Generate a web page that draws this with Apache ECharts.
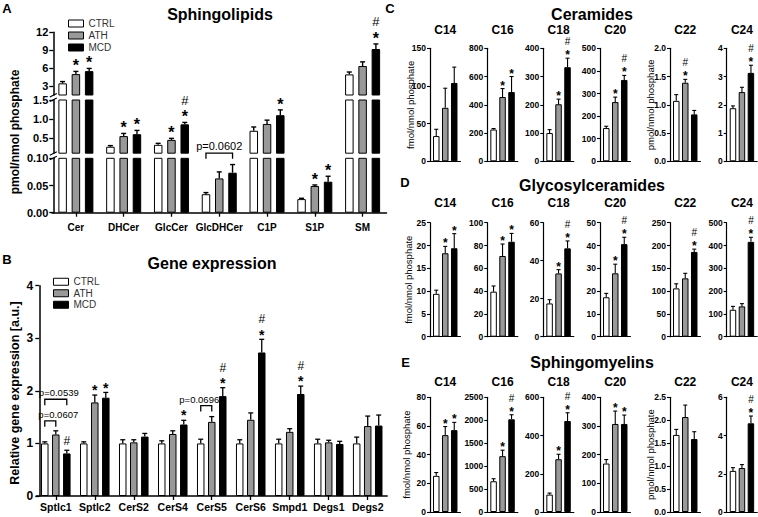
<!DOCTYPE html>
<html><head><meta charset="utf-8">
<script src="https://cdn.jsdelivr.net/npm/echarts@6/dist/echarts.min.js"></script>
<style>html,body{margin:0;padding:0;background:#fff}#c{width:758px;height:517px}</style>
</head><body><div id="c"></div>
<script>
// ---------- Panel A: Sphingolipids ----------
const aCats = ['Cer','DHCer','GlcCer','GlcDHCer','C1P','S1P','SM'];
const aCtrl = [3.45, 0.27, 0.32, 0.034, 0.69, 0.025, 4.95];
const aCtrlErr = [0.3, 0.03, 0.04, 0.003, 0.1, 0.0015, 0.4];
const aAth = [5.0, 0.55, 0.45, 0.063, 0.87, 0.049, 6.35];
const aAthErr = [0.45, 0.07, 0.04, 0.012, 0.1, 0.002, 0.7];
const aMcd = [5.5, 0.6, 0.86, 0.0735, 1.1, 0.057, 9.2];
const aMcdErr = [0.45, 0.1, 0.05, 0.015, 0.14, 0.01, 0.85];
const aAthMark = ['*','*','*','','','*',''];
const aMcdMark = ['*','*','#*','','*','*','#*'];
const aSegMin = [1.5, 0.1, 0];
const aSegMax = [12, 1.5, 0.1];
const aSegTicks = [[3,6,9,12],[0.5,1.0,1.5],[0,0.05,0.1]];
const aSegDigits = [0, 1, 2];
const aBrCat = [3], aBrFrom = [0], aBrTo = [2], aBrLevel = [0.1], aBrLabel = ['p=0.0602'];

// ---------- Panel B: Gene expression ----------
const bCats = ['Sptlc1','Sptlc2','CerS2','CerS4','CerS5','CerS6','Smpd1','Degs1','Degs2'];
const bCtrl = [1,1,1,1,1,1,1,1,1];
const bCtrlErr = [0.03,0.03,0.07,0.05,0.08,0.07,0.08,0.08,0.12];
const bAth = [1.17,1.78,1.02,1.18,1.41,1.45,1.22,1.02,1.33];
const bAthErr = [0.07,0.14,0.05,0.06,0.1,0.13,0.06,0.04,0.19];
const bMcd = [0.81,1.87,1.13,1.36,1.9,2.73,1.94,0.99,1.34];
const bMcdErr = [0.06,0.1,0.06,0.08,0.16,0.25,0.15,0.05,0.2];
const bAthMark = ['','*','','','','','','',''];
const bMcdMark = ['#','*','','*','#*','#*','#*','',''];
const bBrCat = [0,0,4], bBrFrom = [0,0,0], bBrTo = [2,1,1];
const bBrLevel = [1.84,1.43,1.72];
const bBrLabel = ['p=0.0539','p=0.0607','p=0.0696'];
const bMax = 4, bStep = 1;

// ---------- Panels C-E: chain lengths ----------
const chains = ['C14','C16','C18','C20','C22','C24'];
// C: Ceramides
const cCtrl = [33.5, 225, 100, 147, 1.07, 1.88];
const cCtrlErr = [9, 7, 12, 8, 0.11, 0.08];
const cAth = [71, 455, 202, 262, 1.39, 2.45];
const cAthErr = [26, 60, 18, 22, 0.06, 0.17];
const cMcd = [104, 490, 333, 360, 0.83, 3.13];
const cMcdErr = [21, 110, 32, 20, 0.07, 0.27];
const cAthMark = ['','*','*','*','#*',''];
const cMcdMark = ['','*','#*','#*','','#*'];
const cMax = [150,800,400,500,2,4];
const cStep = [50,200,100,100,0.5,1];
// D: Glycosylceramides
const dCtrl = [9.4, 39.5, 17.5, 17.3, 106, 118];
const dCtrlErr = [0.8, 5, 2, 1.7, 10, 15];
const dAth = [18.3, 70.8, 33.3, 27.8, 128, 133];
const dAthErr = [1.5, 10.5, 2, 4, 11, 12];
const dMcd = [19.4, 83.3, 46.5, 40.6, 186, 416];
const dMcdErr = [3.2, 7.3, 3.9, 3, 6, 20];
const dAthMark = ['*','*','*','*','',''];
const dMcdMark = ['*','*','#*','#*','#*','#*'];
const dMax = [25,100,60,50,250,500];
const dStep = [5,20,20,10,50,100];
// E: Sphingomyelins
const eCtrl = [25.2, 670, 91, 169, 1.68, 2.15];
const eCtrlErr = [2.3, 55, 8, 14, 0.12, 0.17];
const eAth = [53.6, 1217, 276, 307, 2.07, 2.3];
const eAthErr = [6, 130, 26, 45, 0.26, 0.18];
const eMcd = [57.1, 2020, 476, 307, 1.59, 4.64];
const eMcdErr = [5.4, 100, 43, 31, 0.16, 0.38];
const eAthMark = ['*','*','*','*','',''];
const eMcdMark = ['*','#*','#*','*','','#*'];
const eMax = [80,2500,600,400,2.5,6];
const eStep = [20,500,200,100,0.5,2];

// ---------- build ----------
const FONT = '"Liberation Sans", Arial, Helvetica, sans-serif';
const NAMES = ['CTRL','ATH','MCD'];
const ISTYLE = [
  {color:'#ffffff', borderColor:'#000', borderWidth:1},
  {color:'#999999', borderColor:'#000', borderWidth:1},
  {color:'#000000', borderColor:'#000', borderWidth:1}
];
const grids=[], xAxes=[], yAxes=[], series=[], graphics=[];

function tstyle(text, size, weight, align){
  return {text, fontSize:size, fontWeight:weight||'normal', fontFamily:FONT, fill:'#000',
    align:align||'center', verticalAlign:'middle', textAlign:align||'center', textVerticalAlign:'middle'};
}
function addText(x, y, text, size, weight, rot, align){
  graphics.push({type:'text', x, y, rotation:rot||0, silent:true, style:tstyle(text,size,weight,align)});
}
function addLine(x1,y1,x2,y2,w,color){
  graphics.push({type:'line', silent:true, shape:{x1,y1,x2,y2}, style:{stroke:color||'#000', lineWidth:w||1}});
}

function errorSeries(gi, items, step, capW, mk){
  return {
    type:'custom', xAxisIndex:gi, yAxisIndex:gi, z:5, silent:true,
    data: items.map(it=>[it.cat, it.v]),
    renderItem(params, api){
      const it = items[params.dataIndex];
      const p0 = api.coord([it.cat, it.v]);
      const p1 = api.coord([it.cat, it.v + it.e]);
      const x = p0[0] + it.k*step;
      const ch = [
        {type:'line', shape:{x1:x,y1:p0[1],x2:x,y2:p1[1]}, style:{stroke:'#000', lineWidth:mk.lw}},
        {type:'line', shape:{x1:x-capW/2,y1:p1[1],x2:x+capW/2,y2:p1[1]}, style:{stroke:'#000', lineWidth:mk.lw}}
      ];
      const y = p1[1];
      const hasStar = it.mark.indexOf('*')>=0, hasHash = it.mark.indexOf('#')>=0;
      if (hasStar) ch.push({type:'text', x, y:y-mk.starDy, style:tstyle('*', mk.starSize, 'bold')});
      if (hasHash) ch.push({type:'text', x, y:y-(hasStar?mk.hashDy:mk.hashAlone), style:tstyle('#', mk.hashSize, 'normal')});
      return {type:'group', children:ch};
    }
  };
}
function bracketSeries(gi, list, step, leg, fs){
  return {
    type:'custom', xAxisIndex:gi, yAxisIndex:gi, z:5, silent:true,
    data: list.map(b=>[b.cat, b.level]),
    renderItem(params, api){
      const b = list[params.dataIndex];
      const p = api.coord([b.cat, b.level]);
      const x1 = p[0] + (b.from-1)*step, x2 = p[0] + (b.to-1)*step;
      return {type:'group', children:[
        {type:'polyline', shape:{points:[[x1,p[1]+leg],[x1,p[1]],[x2,p[1]],[x2,p[1]+leg]]},
          style:{stroke:'#000', lineWidth:1.3, fill:null}},
        {type:'text', x:(x1+x2)/2 + b.dx, y:p[1]-b.ty, style:tstyle(b.label, fs, 'normal')}
      ]};
    }
  };
}
function barSeries(gi, vals, k, bw, gap){
  return {type:'bar', name:NAMES[k], xAxisIndex:gi, yAxisIndex:gi, data:vals,
    barWidth:bw, barGap:gap, itemStyle:ISTYLE[k], clip:true, silent:true, z:2};
}
function items(vals, errs, marks, k, filter){
  const out=[];
  vals.forEach((v,i)=>{ if(!filter || filter(v)) out.push({cat:i, v, e:errs[i], k, mark:marks?marks[i]:''}); });
  return out;
}
const axLine = w => ({show:true, lineStyle:{color:'#000', width:w}});

// ----- Panel A -----
const A = {left:52, width:334.5, top:[32.3,100,158.3], bot:[95,153.2,212.7]};
const aBw = 8.5, aGapPx = 4.8, aStepPx = aBw + aGapPx;
const segOf = v => v >= aSegMin[0] ? 0 : (v >= aSegMin[1] ? 1 : 2);
for (let s=0; s<3; s++){
  const gi = grids.length;
  grids.push({left:A.left, width:A.width, top:A.top[s], height:A.bot[s]-A.top[s]});
  const last = s===2;
  xAxes.push({type:'category', gridIndex:gi, data:aCats,
    axisLine: last?axLine(1.5):{show:false},
    axisTick: last?{show:true, alignWithLabel:true, interval:0, length:4, lineStyle:{color:'#000', width:1.3}}:{show:false},
    axisLabel: last?{show:true, interval:0, color:'#000', fontSize:10, fontWeight:'bold', margin:10, fontFamily:FONT}:{show:false},
    splitLine:{show:false}});
  const dg = aSegDigits[s];
  yAxes.push({type:'value', gridIndex:gi, min:aSegMin[s], max:aSegMax[s], offset:-1.3,
    axisLine:axLine(1.5),
    axisTick:{show:true, length:4, customValues:aSegTicks[s], lineStyle:{color:'#000', width:1.3}},
    axisLabel:{show:true, customValues:aSegTicks[s], color:'#000', fontSize:11, fontWeight:'bold', margin:5, fontFamily:FONT,
      formatter:v=>Number(v).toFixed(dg)},
    splitLine:{show:false}});
  const bg = Math.round(aGapPx/aBw*100)+'%';
  [aCtrl,aAth,aMcd].forEach((vals,k)=>series.push(barSeries(gi, vals, k, aBw, bg)));
  const f = v => segOf(v)===s;
  const it = [].concat(
    items(aCtrl, aCtrlErr, null, -1, f),
    items(aAth, aAthErr, aAthMark, 0, f),
    items(aMcd, aMcdErr, aMcdMark, 1, f));
  series.push(errorSeries(gi, it, aStepPx, 5, {lw:1.4, starSize:16, starDy:5.5, hashSize:13, hashDy:22, hashAlone:9}));
  if (s===1){
    const br = aBrCat.map((c,i)=>({cat:c, from:aBrFrom[i], to:aBrTo[i], level:aBrLevel[i], label:aBrLabel[i], dx:0, ty:7.5}));
    series.push(bracketSeries(gi, br, aStepPx, 5.5, 11));
  }
}
// axis break marks
[[95,100],[153.2,158.3]].forEach(([y1,y2])=>{
  const ax = 53.3;
  addLine(ax-3.5, y1+2, ax+3.5, y1-1.5, 1.2);
  addLine(ax-3.5, y2+1.5, ax+3.5, y2-2, 1.2);
});
addText(220, 14, 'Sphingolipids', 16, 'bold');
addText(7, 8, 'A', 13, 'bold');
addText(15, 132, 'pmol/nmol phosphate', 12, 'bold', Math.PI/2);

// ----- Panel B -----
{
  const gi = grids.length;
  const bBw = 7.5, bGapPx = 3.5, bStepPx = bBw + bGapPx;
  grids.push({left:36.3, width:350.9, top:285.7, height:210.3});
  xAxes.push({type:'category', gridIndex:gi, data:bCats, axisLine:axLine(1.5),
    axisTick:{show:true, alignWithLabel:true, interval:0, length:4, lineStyle:{color:'#000', width:1.3}},
    axisLabel:{show:true, interval:0, color:'#000', fontSize:10.5, fontWeight:'bold', margin:5, fontFamily:FONT},
    splitLine:{show:false}});
  yAxes.push({type:'value', gridIndex:gi, min:0, max:bMax, interval:bStep, offset:-3,
    axisLine:axLine(1.5),
    axisTick:{show:true, length:4, lineStyle:{color:'#000', width:1.3}},
    axisLabel:{show:true, color:'#000', fontSize:12, fontWeight:'bold', margin:6, fontFamily:FONT},
    splitLine:{show:false}});
  const bg = Math.round(bGapPx/bBw*100)+'%';
  [bCtrl,bAth,bMcd].forEach((vals,k)=>series.push(barSeries(gi, vals, k, bBw, bg)));
  const it = [].concat(
    items(bCtrl, bCtrlErr, null, -1),
    items(bAth, bAthErr, bAthMark, 0),
    items(bMcd, bMcdErr, bMcdMark, 1));
  series.push(errorSeries(gi, it, bStepPx, 5, {lw:1.3, starSize:14, starDy:4.8, hashSize:12, hashDy:20, hashAlone:9}));
  const bDx = [3, 8, -7];
  const br = bBrCat.map((c,i)=>({cat:c, from:bBrFrom[i], to:bBrTo[i], level:bBrLevel[i], label:bBrLabel[i], dx:bDx[i], ty:6.5}));
  series.push(bracketSeries(gi, br, bStepPx, 6, 9.5));
}
addText(212, 263, 'Gene expression', 16, 'bold');
addText(7, 259, 'B', 13, 'bold');
addText(15, 393, 'Relative gene expression [a.u.]', 12.5, 'bold', Math.PI/2);

// ----- Panels C, D, E -----
const rows = [
  {ctrl:cCtrl, ctrlE:cCtrlErr, ath:cAth, athE:cAthErr, mcd:cMcd, mcdE:cMcdErr, athM:cAthMark, mcdM:cMcdMark, max:cMax, step:cStep,
   top:48.3, h:113, subY:30, title:'Ceramides', titleY:14, letter:'C', lx:390, ly:8, ylX:410.5, yl2:true},
  {ctrl:dCtrl, ctrlE:dCtrlErr, ath:dAth, athE:dAthErr, mcd:dMcd, mcdE:dMcdErr, athM:dAthMark, mcdM:dMcdMark, max:dMax, step:dStep,
   top:222.7, h:114, subY:203.3, title:'Glycosylceramides', titleY:185, letter:'D', lx:405, ly:182.5, ylX:408, yl2:false},
  {ctrl:eCtrl, ctrlE:eCtrlErr, ath:eAth, athE:eAthErr, mcd:eMcd, mcdE:eMcdErr, athM:eAthMark, mcdM:eMcdMark, max:eMax, step:eStep,
   top:397.3, h:114.7, subY:381.7, title:'Sphingomyelins', titleY:362, letter:'E', lx:405.5, ly:362.5, ylX:406.7, yl2:true}
];
const colLeft = [430, 487.3, 543.3, 600, 670, 726.7];
const colW = 30.5;
const sBw = 6.5, sGapPx = 2.5, sStepPx = sBw + sGapPx;
rows.forEach(r=>{
  for (let c=0; c<6; c++){
    const gi = grids.length;
    grids.push({left:colLeft[c], width:colW, top:r.top, height:r.h});
    xAxes.push({type:'category', gridIndex:gi, data:[chains[c]], axisLine:axLine(1.2),
      axisTick:{show:false}, axisLabel:{show:false}, splitLine:{show:false}});
    const dg = r.step[c] < 1 ? 1 : 0;
    yAxes.push({type:'value', gridIndex:gi, min:0, max:r.max[c], interval:r.step[c],
      axisLine:axLine(1.2),
      axisTick:{show:true, length:3, lineStyle:{color:'#000', width:1.1}},
      axisLabel:{show:true, color:'#000', fontSize:8.5, fontWeight:'bold', margin:4, fontFamily:FONT,
        formatter:v=>Number(v).toFixed(dg)},
      splitLine:{show:false}});
    const bg = Math.round(sGapPx/sBw*100)+'%';
    [[r.ctrl[c]],[r.ath[c]],[r.mcd[c]]].forEach((vals,k)=>series.push(barSeries(gi, vals, k, sBw, bg)));
    const it = [
      {cat:0, v:r.ctrl[c], e:r.ctrlE[c], k:-1, mark:''},
      {cat:0, v:r.ath[c], e:r.athE[c], k:0, mark:r.athM[c]},
      {cat:0, v:r.mcd[c], e:r.mcdE[c], k:1, mark:r.mcdM[c]}
    ];
    series.push(errorSeries(gi, it, sStepPx, 4, {lw:1.1, starSize:12, starDy:3, hashSize:10, hashDy:16.5, hashAlone:6}));
    addText(colLeft[c] + colW/2, r.subY, chains[c], 12, 'bold');
  }
  addText(592, r.titleY, r.title, 16, 'bold');
  addText(r.lx, r.ly, r.letter, 13, 'bold');
  addText(r.ylX, r.top + r.h/2, 'fmol/nmol phosphate', 9.5, 'normal', Math.PI/2);
  if (r.yl2) addText(650, r.top + r.h/2, 'pmol/nmol phosphate', 9.5, 'normal', Math.PI/2);
});

const legendData = NAMES.map((n,k)=>({name:n, itemStyle:ISTYLE[k]}));
const legendBase = {orient:'vertical', itemWidth:15, itemHeight:7, itemGap:0, icon:'rect', selectedMode:false,
  data:legendData, padding:0};
const option = {
  animation:false,
  backgroundColor:'#ffffff',
  textStyle:{fontFamily:FONT},
  legend:[
    Object.assign({left:68, top:17.5, textStyle:{fontSize:10, color:'#333', lineHeight:12, fontFamily:FONT}}, legendBase),
    Object.assign({left:53, top:276, textStyle:{fontSize:10, color:'#333', lineHeight:11.5, fontFamily:FONT}}, legendBase)
  ],
  grid:grids, xAxis:xAxes, yAxis:yAxes, series, graphic:graphics
};
const chart = echarts.init(document.getElementById('c'), null, {renderer:'svg'});
chart.setOption(option);
</script>
</body></html>
